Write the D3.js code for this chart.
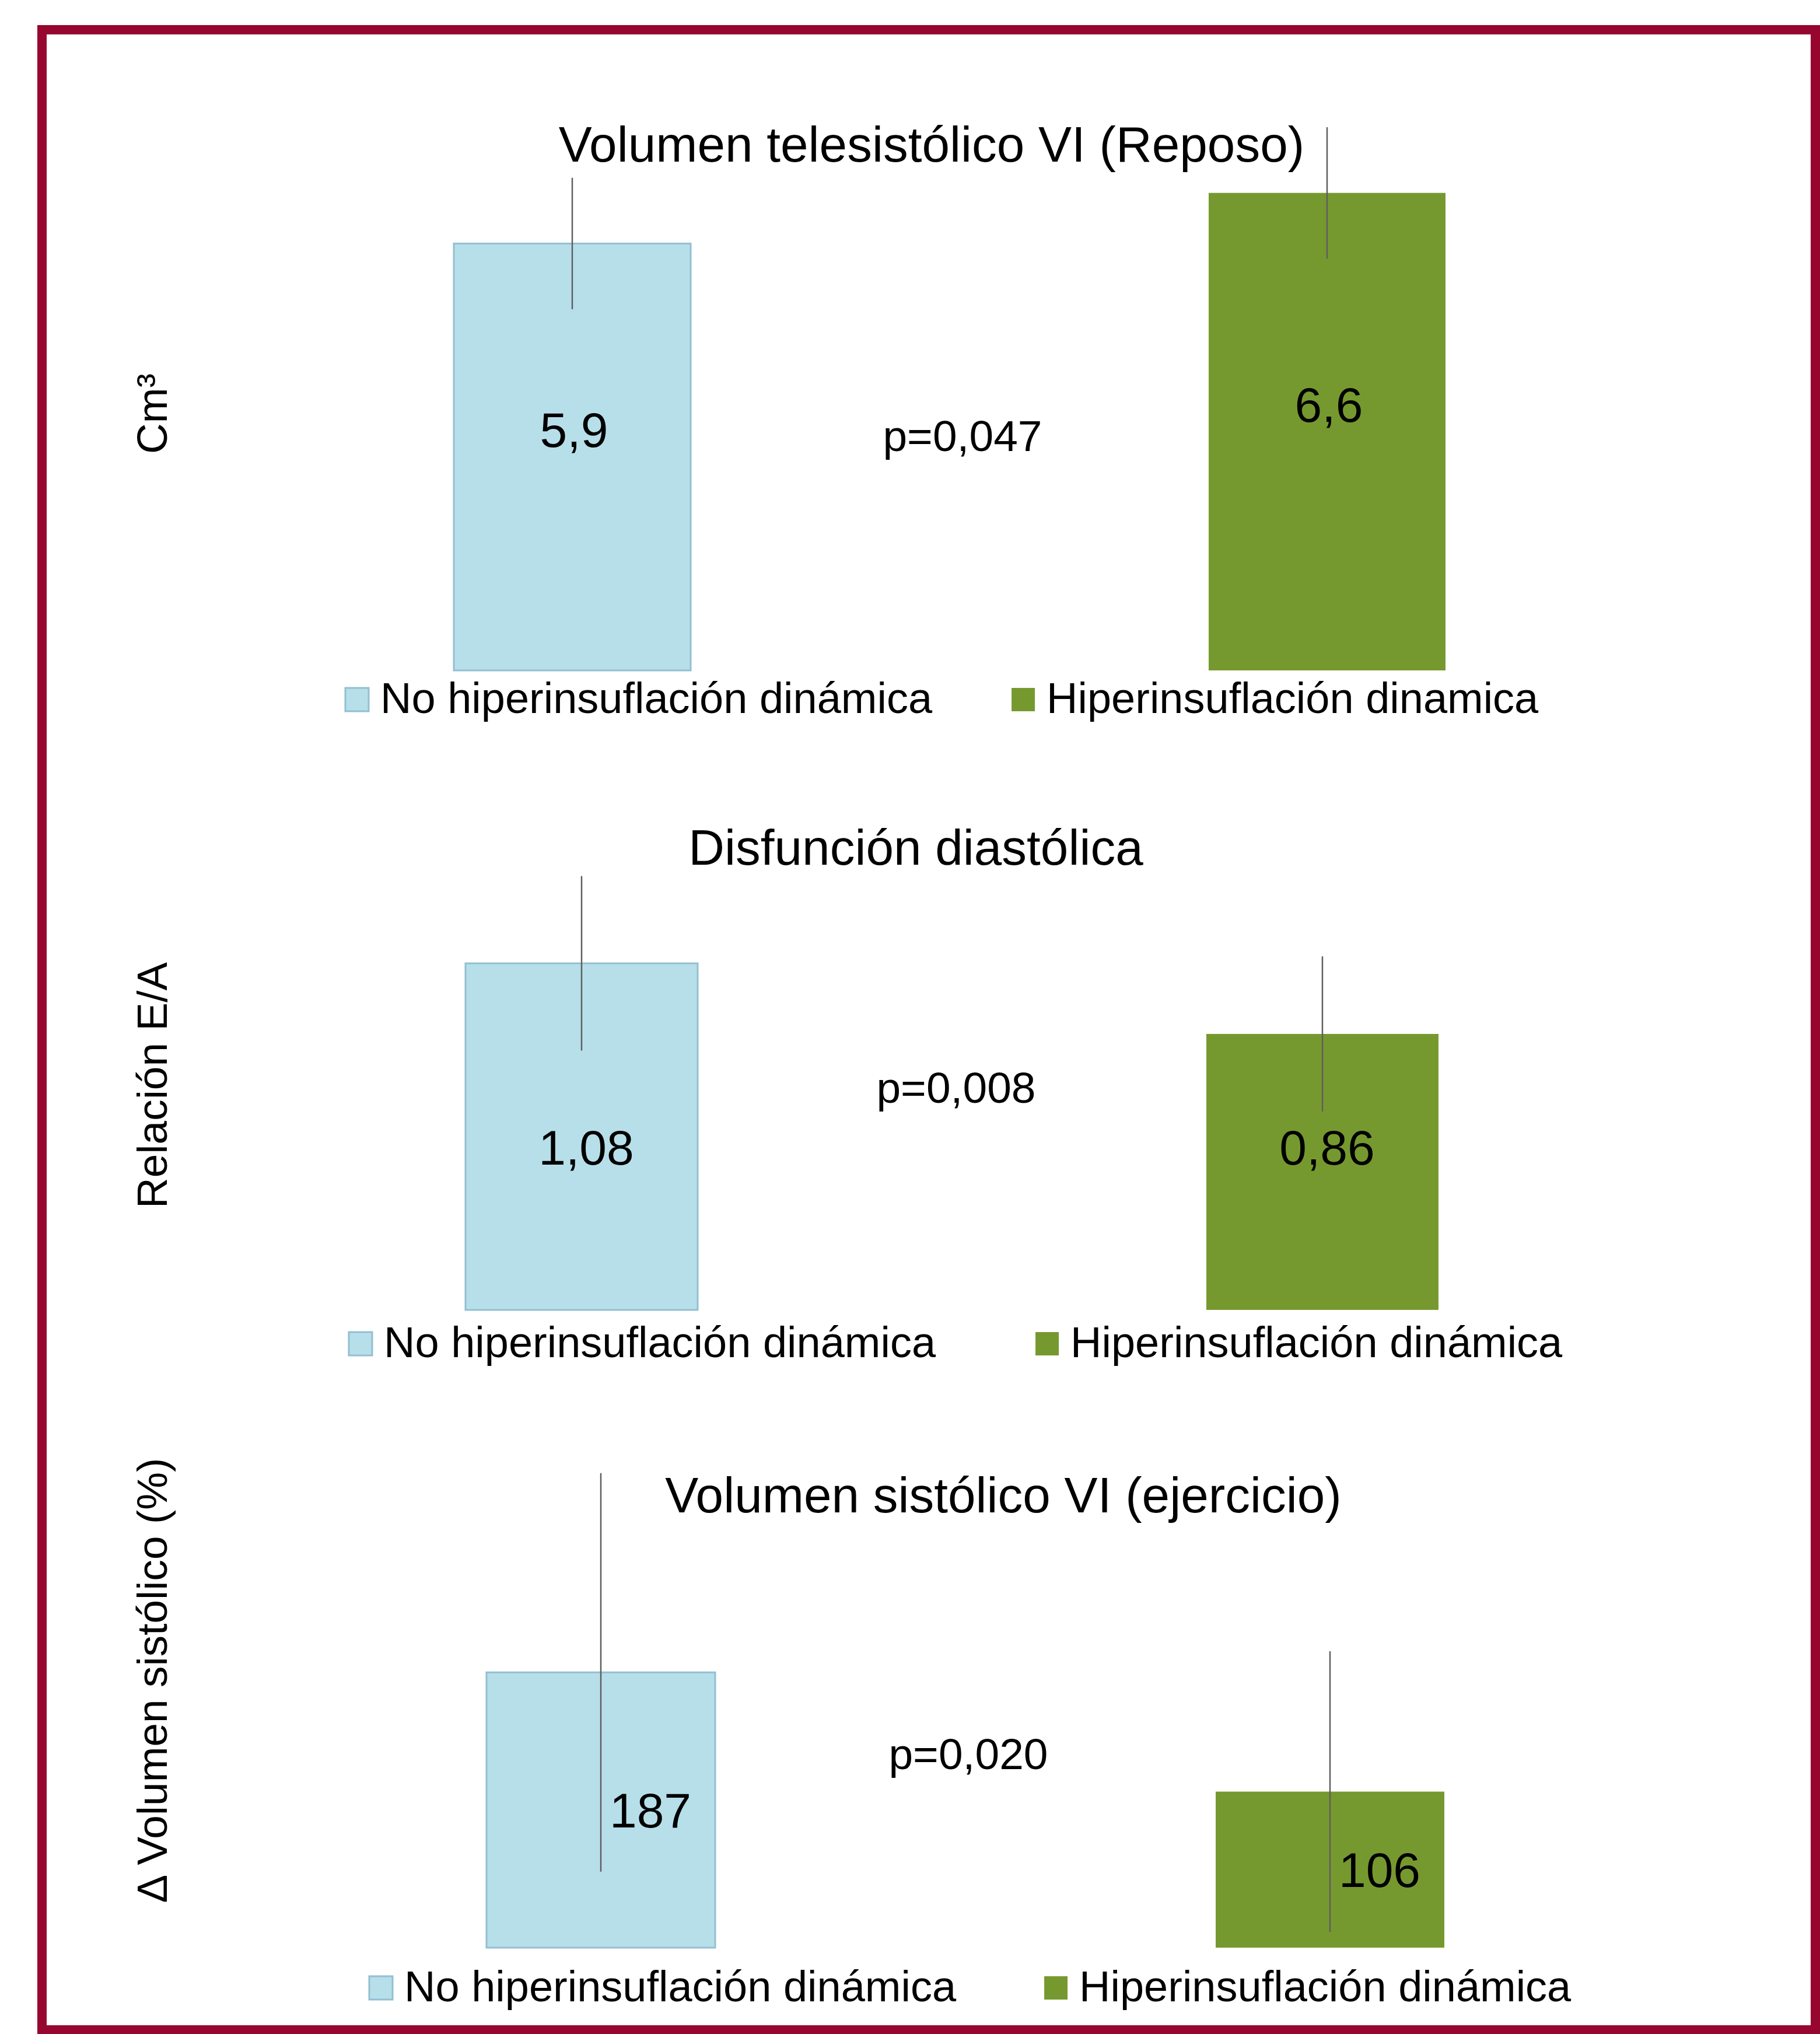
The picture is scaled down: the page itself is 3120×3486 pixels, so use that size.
<!DOCTYPE html>
<html>
<head>
<meta charset="utf-8">
<script src="https://cdn.jsdelivr.net/npm/d3@7"></script>
<style>
  html, body { margin: 0; padding: 0; background: #ffffff; }
  svg { display: block; }
  text { font-family: "Liberation Sans", Arial, Helvetica, sans-serif; fill: #000; }
</style>
</head>
<body>
<svg id="chart" width="3120" height="3486"></svg>
<script>
// ---------------- DATA ----------------
const groups = ["No hiperinsuflación dinámica", "Hiperinsuflación dinámica"];
const legendLabels = [
  ["No hiperinsuflación dinámica", "Hiperinsuflación dinamica"],
  ["No hiperinsuflación dinámica", "Hiperinsuflación dinámica"],
  ["No hiperinsuflación dinámica", "Hiperinsuflación dinámica"]
];
const titles = [
  "Volumen telesistólico VI (Reposo)",
  "Disfunción diastólica",
  "Volumen sistólico VI (ejercicio)"
];
const yTitles = ["Cm³", "Relación E/A", "Δ Volumen sistólico (%)"];
const means = [
  [5.9, 6.6],
  [1.08, 0.86],
  [187, 106]
];
const sds = [
  [0.9, 0.9],
  [0.27, 0.24],
  [135, 95]
];
const valueLabels = [
  ["5,9", "6,6"],
  ["1,08", "0,86"],
  ["187", "106"]
];
const pValues = ["p=0,047", "p=0,008", "p=0,020"];

// ---------------- LAYOUT / STYLE ----------------
const colors = ["#B7DFEA", "#76992F"];
const strokes = ["#93BFD2", "none"];
const layout = [
  {yMax: 8,   base: 1149, top: 157,  c0: 981,  c1: 2275, bw: 406, titleX: 1597, titleY: 277,
   lblDx: 3,  lblDy: -47, lblY: null, pX: 1650, pY: 773,  legY: 1222, legX: 592, legGap: 136, yTitleY: 709},
  {yMax: 1.6, base: 2245, top: 1365, c0: 997,  c1: 2267, bw: 398, titleX: 1570, titleY: 1482,
   lblDx: 8,  lblDy: 0,   lblY: 1966, pX: 1639, pY: 1890, legY: 2326, legX: 598, legGap: 171, yTitleY: 1860},
  {yMax: 350, base: 3338, top: 2455, c0: 1030, c1: 2280, bw: 392, titleX: 1720, titleY: 2592,
   lblDx: 85, lblDy: 0,   lblY: null, pX: 1660, pY: 3032, legY: 3430, legX: 633, legGap: 151, yTitleY: 2880}
];
const titleSize = 85.5, valueSize = 84, pSize = 75, legendSize = 74, yTitleSize = 73;

const svg = d3.select("#chart");

// frame
svg.append("rect")
  .attr("x", 72).attr("y", 51)
  .attr("width", 3112 - 72).attr("height", 3479 - 51)
  .attr("fill", "#ffffff")
  .attr("stroke", "#96062F").attr("stroke-width", 16);

layout.forEach((L, i) => {
  const g = svg.append("g");
  const x = d3.scalePoint().domain(groups).range([L.c0, L.c1]);
  const y = d3.scaleLinear().domain([0, L.yMax]).range([L.base, L.top]);
  const rows = groups.map((k, j) => ({k, j, v: means[i][j], sd: sds[i][j], lbl: valueLabels[i][j]}));

  // title
  g.append("text")
    .attr("x", L.titleX).attr("y", L.titleY)
    .attr("text-anchor", "middle")
    .style("font-size", titleSize + "px")
    .text(titles[i]);

  // y-axis title
  g.append("text")
    .attr("transform", `translate(286,${L.yTitleY}) rotate(-90)`)
    .attr("text-anchor", "middle")
    .style("font-size", yTitleSize + "px")
    .text(yTitles[i]);

  // bars
  g.selectAll("rect.bar").data(rows).join("rect")
    .attr("class", "bar")
    .attr("x", d => x(d.k) - L.bw / 2)
    .attr("width", L.bw)
    .attr("y", d => y(d.v))
    .attr("height", d => y(0) - y(d.v))
    .attr("fill", d => colors[d.j])
    .attr("stroke", d => strokes[d.j])
    .attr("stroke-width", 3);

  // error bars
  g.selectAll("line.err").data(rows).join("line")
    .attr("class", "err")
    .attr("x1", d => x(d.k)).attr("x2", d => x(d.k))
    .attr("y1", d => y(d.v + d.sd))
    .attr("y2", d => y(d.v - d.sd))
    .attr("stroke", "#5f5f5f").attr("stroke-width", 2.5)
    .attr("stroke-linecap", "round");

  // value labels
  g.selectAll("text.val").data(rows).join("text")
    .attr("class", "val")
    .attr("x", d => x(d.k) + L.lblDx)
    .attr("y", d => (L.lblY != null ? L.lblY : (y(d.v) + y(0)) / 2 + L.lblDy) + valueSize * 0.358)
    .attr("text-anchor", "middle")
    .style("font-size", valueSize + "px")
    .text(d => d.lbl);

  // p-value
  g.append("text")
    .attr("x", L.pX).attr("y", L.pY)
    .attr("text-anchor", "middle")
    .style("font-size", pSize + "px")
    .text(pValues[i]);

  // legend
  let cx = L.legX;
  legendLabels[i].forEach((lab, j) => {
    g.append("rect")
      .attr("x", cx).attr("y", L.legY - 43)
      .attr("width", 40).attr("height", 40)
      .attr("fill", colors[j])
      .attr("stroke", strokes[j]).attr("stroke-width", 3);
    const t = g.append("text")
      .attr("x", cx + 60).attr("y", L.legY)
      .style("font-size", legendSize + "px")
      .text(lab);
    cx = cx + 60 + t.node().getComputedTextLength() + L.legGap;
  });
});
</script>
</body>
</html>
